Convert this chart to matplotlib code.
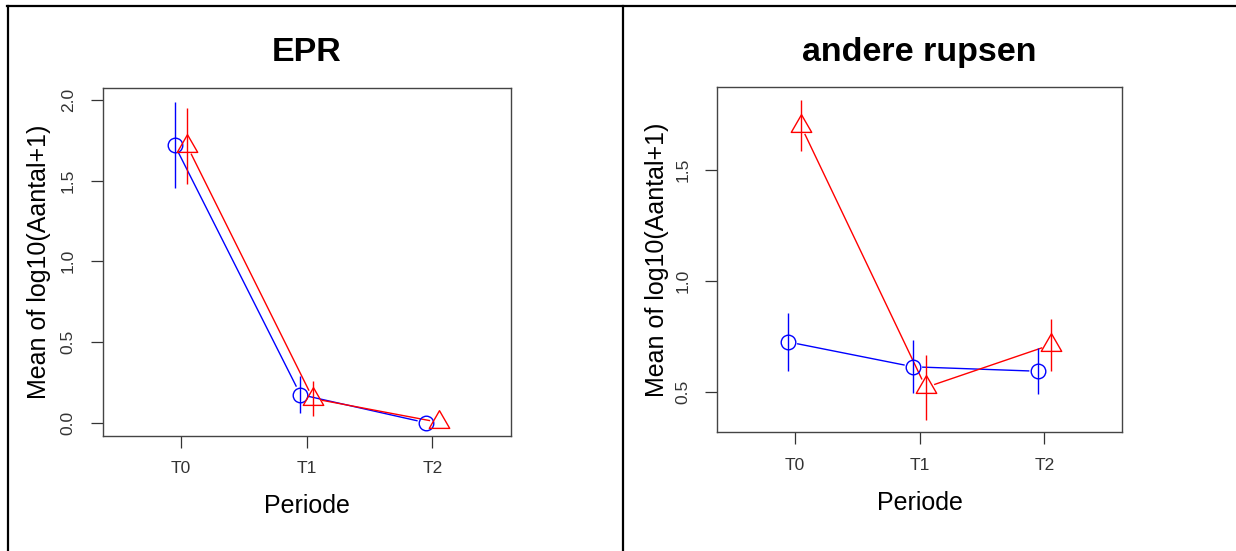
import numpy as np
import matplotlib
matplotlib.use('Agg')
import matplotlib.pyplot as plt
from matplotlib.lines import Line2D
from matplotlib.path import Path

plt.rcParams['font.family'] = ['Liberation Sans', 'DejaVu Sans']

# data
periods = ['T0', 'T1', 'T2']

epr_blue_mean = [1.722, 0.175, 0.0]
epr_blue_err = [0.268, 0.113, 0.0]
epr_red_mean = [1.716, 0.150, 0.003]
epr_red_err = [0.236, 0.106, 0.0]

rups_blue_mean = [0.725, 0.613, 0.593]
rups_blue_err = [0.130, 0.120, 0.103]
rups_red_mean = [1.700, 0.520, 0.712]
rups_red_err = [0.115, 0.145, 0.117]

BLUE = '#0000FF'
RED = '#FF0000'
W, H = 1236, 551

# R style triangle (pch = 2), centred on the point
tri = Path([(0, 1), (-0.866, -0.5), (0.866, -0.5), (0, 1)],
           [Path.MOVETO, Path.LINETO, Path.LINETO, Path.CLOSEPOLY])


def gapped_line(ax, xs, ys, color, gap=9.5):
    # lines between points with a gap round each point, like type="b" in R
    pts = ax.transData.transform(np.column_stack([xs, ys]))
    inv = ax.transData.inverted()
    for i in range(len(pts) - 1):
        p0, p1 = pts[i], pts[i + 1]
        d = p1 - p0
        length = np.hypot(d[0], d[1])
        if length <= 2 * gap:
            continue
        u = d / length
        a = inv.transform(p0 + u * gap)
        b = inv.transform(p1 - u * gap)
        ax.plot([a[0], b[0]], [a[1], b[1]], color=color, lw=1.0)


def panel(rect, title, ylim, yticks, blue_mean, blue_err, red_mean, red_err, ylab_x):
    ax = fig.add_axes(rect)
    ax.set_xlim(-0.62, 2.62)
    ax.set_ylim(*ylim)
    x = np.arange(len(periods))
    xb = x - 0.05
    xr = x + 0.05

    gapped_line(ax, xb, blue_mean, BLUE)
    gapped_line(ax, xr, red_mean, RED)

    bm = np.array(blue_mean)
    be = np.array(blue_err)
    rm = np.array(red_mean)
    re = np.array(red_err)
    ax.vlines(xb, bm - be, bm + be, color=BLUE, lw=1.0)
    ax.vlines(xr, rm - re, rm + re, color=RED, lw=1.0)

    ax.plot(xb, blue_mean, linestyle='', marker='o', ms=10.5,
            mfc='none', mec=BLUE, mew=1.0)
    ax.plot(xr, red_mean, linestyle='', marker=tri, ms=17,
            mfc='none', mec=RED, mew=1.0)

    ax.set_xticks(x)
    ax.set_xticklabels(periods)
    ax.set_yticks(yticks)
    ax.set_yticklabels(['%.1f' % v for v in yticks])

    for s in ax.spines.values():
        s.set_color('#444444')
        s.set_linewidth(1.0)
    ax.tick_params(axis='both', direction='out', length=8.5, width=0.9,
                   color='#333333', labelsize=12.5, labelcolor='#333333')
    ax.tick_params(axis='x', pad=10)
    ax.tick_params(axis='y', pad=11, labelrotation=90)
    for lbl in ax.get_yticklabels():
        lbl.set_va('center')

    ax.set_title(title, fontsize=24.5, fontweight='bold', pad=19)
    ax.set_xlabel('Periode', fontsize=18, labelpad=13)
    ax.set_ylabel('Mean of log10(Aantal+1)', fontsize=18)
    ax.yaxis.set_label_coords(ylab_x, 0.5)
    return ax


fig = plt.figure(figsize=(W / 100, H / 100), dpi=100)

left = [102.8 / W, 1 - 435.7 / H, (510.5 - 102.8) / W, (435.7 - 87.8) / H]
right = [717.3 / W, 1 - 432.2 / H, (1121.8 - 717.3) / W, (432.2 - 87.1) / H]

panel(left, 'EPR', (-0.08, 2.075), [0.0, 0.5, 1.0, 1.5, 2.0],
      epr_blue_mean, epr_blue_err, epr_red_mean, epr_red_err, -0.127)
panel(right, 'andere rupsen', (0.318, 1.875), [0.5, 1.0, 1.5],
      rups_blue_mean, rups_blue_err, rups_red_mean, rups_red_err, -0.12)

# table borders round the two panels
def px_line(x0, y0, x1, y1):
    fig.add_artist(Line2D([x0 / W, x1 / W], [1 - y0 / H, 1 - y1 / H],
                          transform=fig.transFigure, color='black', lw=1.6))

px_line(7, 6, W, 6)
px_line(8, 6, 8, H)
px_line(623, 6, 623, H)

fig.savefig('out.png', dpi=100)
